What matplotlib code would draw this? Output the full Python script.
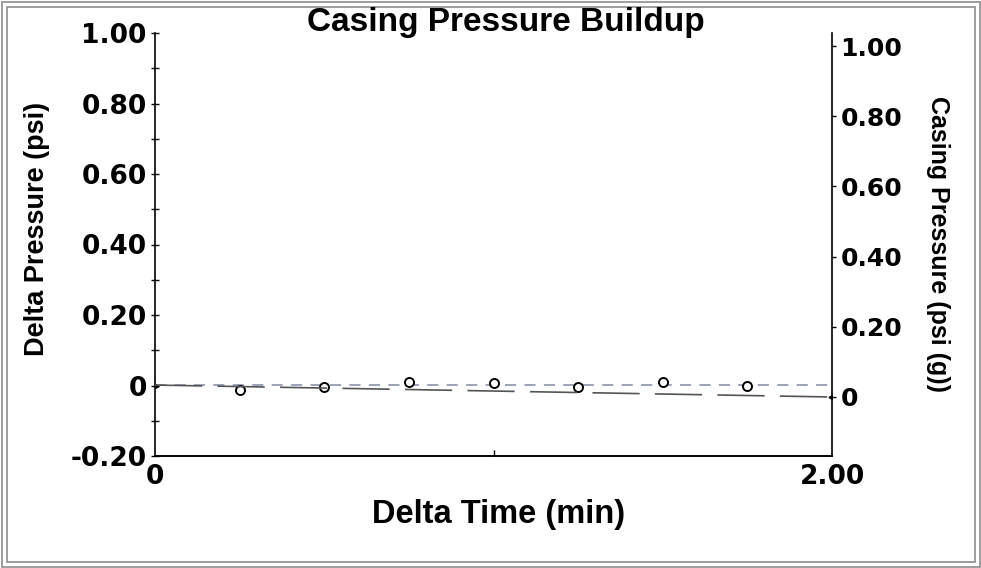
import matplotlib
matplotlib.use("Agg")
import matplotlib.pyplot as plt
from matplotlib.patches import Rectangle
from matplotlib.ticker import MultipleLocator, FixedLocator

# data
time_min = [0.0, 0.25, 0.50, 0.75, 1.00, 1.25, 1.50, 1.75]
delta_psi = [0.0, -0.012, -0.003, 0.011, 0.006, -0.003, 0.011, 0.0]
trend_t = [0.0, 2.0]
trend_psi = [0.002, 0.002]
casing_t = [0.0, 2.0]
casing_psig = [0.034, 0.0]

left_ticks = [-0.2, 0.0, 0.2, 0.4, 0.6, 0.8, 1.0]
left_labels = ["-0.20", "0", "0.20", "0.40", "0.60", "0.80", "1.00"]
right_ticks = [0.0, 0.2, 0.4, 0.6, 0.8, 1.0]
right_labels = ["0", "0.20", "0.40", "0.60", "0.80", "1.00"]
x_ticks = [0.0, 2.0]
x_labels = ["0", "2.00"]

plt.rcParams['lines.scale_dashes'] = False
W, H = 981, 568
fig = plt.figure(figsize=(W/100, H/100), dpi=100)
ax = fig.add_axes([155/W, 1-456/H, (832-155)/W, (456-33)/H])

ax.plot(trend_t, trend_psi, color='#8a93ad', lw=1.2, dashes=(8, 6), zorder=2)
ax.plot(time_min[1:], delta_psi[1:], 'o', ms=6.5, mfc='white', mec='black', mew=1.4, zorder=4)
ax.plot(time_min[:1], delta_psi[:1], marker=(3, 0, -90), ms=5, color='black', ls='none', zorder=5)

ax.set_xlim(0, 2.0)
ax.set_ylim(-0.2, 1.0)
ax.spines['top'].set_visible(False)
ax.spines['right'].set_visible(False)
ax.set_yticks(left_ticks)
ax.set_yticklabels(left_labels)
ax.yaxis.set_minor_locator(MultipleLocator(0.1))
ax.tick_params(axis='y', which='both', direction='inout', length=6, width=1, pad=3)
ax.set_xticks(x_ticks)
ax.set_xticklabels(x_labels)
ax.xaxis.set_minor_locator(FixedLocator([1.0]))
ax.tick_params(axis='x', which='major', length=0, pad=6)
ax.tick_params(axis='x', which='minor', direction='in', length=4, width=1)
for lab in ax.get_yticklabels() + ax.get_xticklabels():
    lab.set_fontfamily('DejaVu Sans')
    lab.set_fontweight('bold')
    lab.set_fontsize(19)

ax2 = ax.twinx()
r_bot = -(456-397)/351
r_top = 1 + (46-33)/351
ax2.set_ylim(r_bot, r_top)
ax2.plot(casing_t, casing_psig, color='#555555', lw=1.2, dashes=(34, 11), zorder=3)
ax2.plot(casing_t[-1:], casing_psig[-1:], marker=(3, 0, 90), ms=5, color='black', ls='none')
ax2.spines['top'].set_visible(False)
ax2.spines['left'].set_visible(False)
ax2.set_yticks(right_ticks)
ax2.set_yticklabels(right_labels)
ax2.tick_params(axis='y', direction='out', length=3, width=1, pad=3)
for lab in ax2.get_yticklabels():
    lab.set_fontfamily('DejaVu Sans')
    lab.set_fontweight('bold')
    lab.set_fontsize(18)
for a in (ax, ax2):
    for s in a.spines.values():
        s.set_linewidth(1.2)

fnt = dict(family='Liberation Sans', weight='bold')
fig.text(506/W, 1-23/H, "Casing Pressure Buildup", ha='center', va='center', fontsize=24, **fnt)
fig.text(499/W, 1-514/H, "Delta Time (min)", ha='center', va='center', fontsize=23.5, **fnt)
fig.text(37/W, 1-229/H, "Delta Pressure (psi)", ha='center', va='center', rotation=90, fontsize=19.5, **fnt)
fig.text(938/W, 1-244/H, "Casing Pressure (psi (g))", ha='center', va='center', rotation=270, fontsize=18, **fnt)

# double frame around the picture
for inset in (1.5, 6.5):
    fig.patches.append(Rectangle((inset/W, inset/H), 1-2*inset/W, 1-2*inset/H,
                                 transform=fig.transFigure, fill=False, ec='#8c8c8c', lw=1.2))

fig.savefig("out.png", dpi=100)
